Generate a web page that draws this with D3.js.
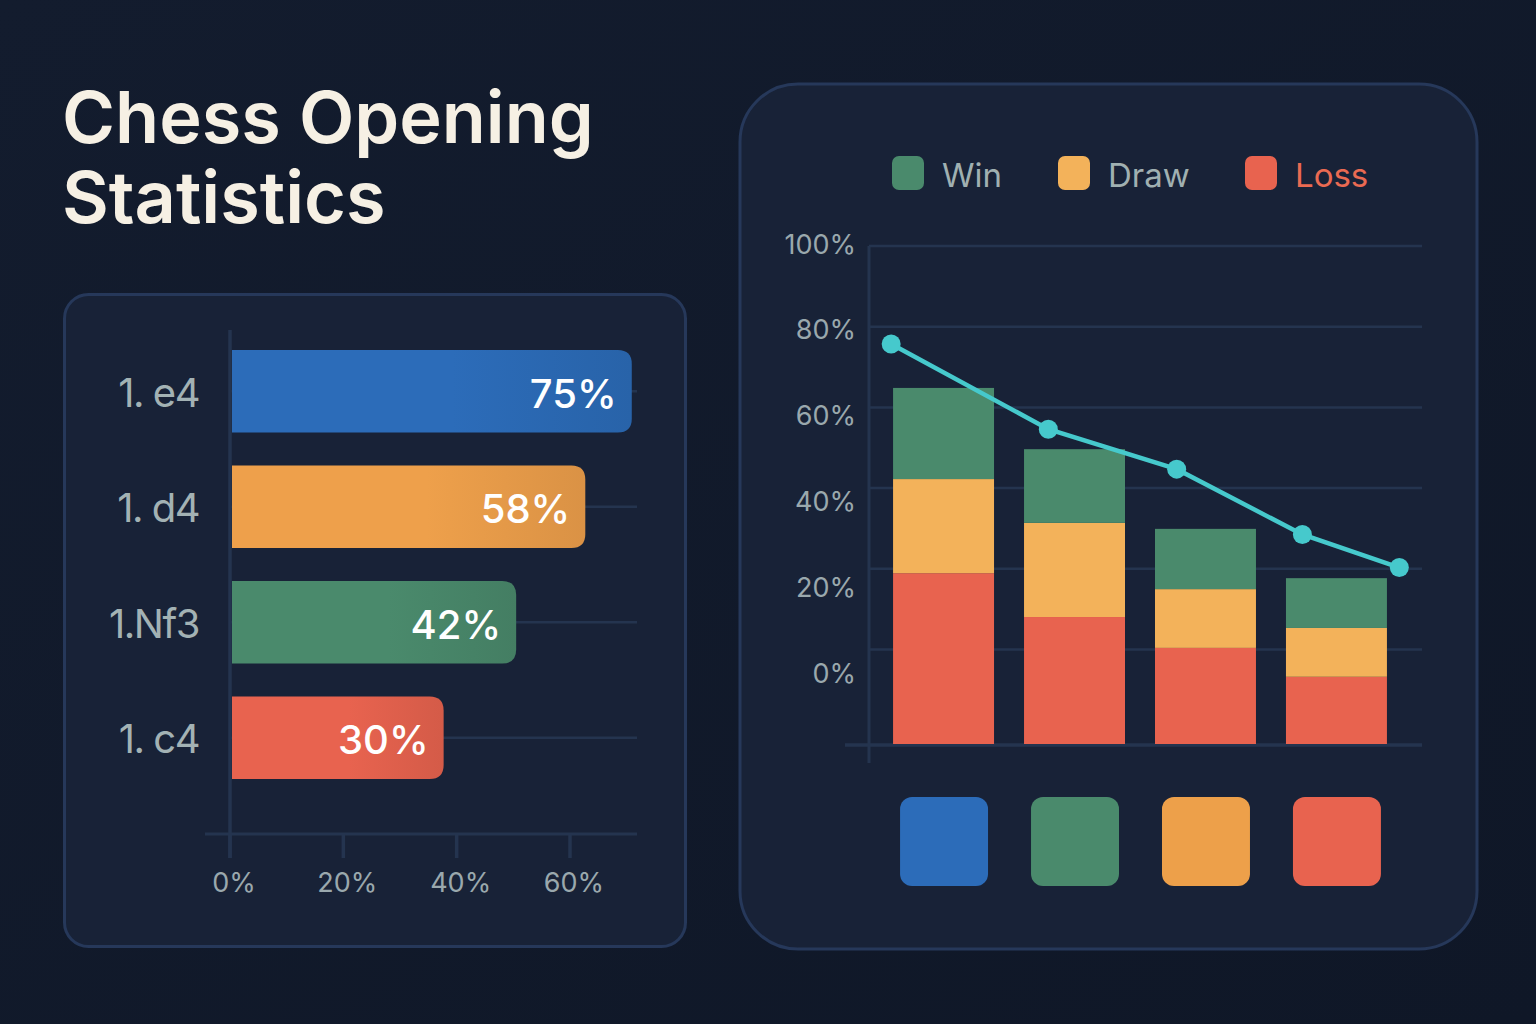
<!DOCTYPE html>
<html>
<head>
<meta charset="utf-8">
<script src="https://cdn.jsdelivr.net/npm/d3@7"></script>
<style>
  html, body { margin: 0; padding: 0; background: #111a2b; }
  svg { display: block; font-family: Inter, "Noto Sans", sans-serif; }
</style>
</head>
<body>
<script>
// left chart: openings, drawn bar length and printed label
const openings = ["1. e4", "1. d4", "1.Nf3", "1. c4"];
const barLength = [70.9, 62.7, 50.5, 37.7];
const barLabels = ["75%", "58%", "42%", "30%"];
const openingColors = ["#2c6cb9", "#eea04b", "#4a8a6c", "#e8634f"];
const xTicks = [0, 20, 40, 60];

// right chart: stacked win / draw / loss per opening
const resultKeys = ["Loss", "Draw", "Win"];
const lossValues = [34.3, 25.5, 19.3, 13.5];
const drawValues = [18.9, 18.9, 11.8, 9.8];
const winValues = [18.3, 14.8, 12.1, 10.0];
const resultColors = { Win: "#4a8a6c", Draw: "#f3b25a", Loss: "#e8634f" };
const legendItems = ["Win", "Draw", "Loss"];
const yTicks = [0, 20, 40, 60, 80, 100];
const swatchColors = ["#2c6cb9", "#4a8a6c", "#eda04a", "#e8634f"];

// trend line (x in bar-index units)
const trendX = [-0.40, 0.80, 1.78, 2.74, 3.48];
const trendY = [75.7, 54.6, 44.7, 28.5, 20.3];

const W = 1536, H = 1024;
const svg = d3.select("body").append("svg")
    .attr("width", W)
    .attr("height", H);

const defs = svg.append("defs");
const bg = defs.append("linearGradient").attr("id", "bg")
    .attr("x1", 0).attr("y1", 0).attr("x2", 1).attr("y2", 1);
bg.append("stop").attr("offset", 0).attr("stop-color", "#131c2e");
bg.append("stop").attr("offset", 1).attr("stop-color", "#0f1727");

svg.append("rect").attr("width", W).attr("height", H).attr("fill", "url(#bg)");

// title
svg.append("text")
    .attr("x", 62).attr("y", 143)
    .attr("fill", "#f6f0e4")
    .style("font-size", "72px")
    .style("font-weight", 600)
    .selectAll("tspan")
    .data(["Chess Opening", "Statistics"])
    .join("tspan")
    .attr("x", 62)
    .attr("dy", (d, i) => i ? 80 : 0)
    .text(d => d);

// panels
svg.append("rect")
    .attr("x", 64.5).attr("y", 294.5).attr("width", 621).attr("height", 652)
    .attr("rx", 24)
    .attr("fill", "#182237").attr("stroke", "#26385a").attr("stroke-width", 3);

svg.append("rect")
    .attr("x", 740).attr("y", 84).attr("width", 737).attr("height", 865)
    .attr("rx", 58)
    .attr("fill", "#182237").attr("stroke", "#26385a").attr("stroke-width", 3);

// ---------- left chart ----------
const x = d3.scaleLinear().domain([0, 60]).range([230, 570]);
const yCat = d3.scaleBand().domain(openings).range([350, 779]).paddingInner(0.287);

const gridCol = "#24344f";

const left = svg.append("g");

left.selectAll(".row-line")
    .data(openings)
    .join("line")
    .attr("x1", x(0)).attr("x2", 637)
    .attr("y1", d => yCat(d) + yCat.bandwidth() / 2)
    .attr("y2", d => yCat(d) + yCat.bandwidth() / 2)
    .attr("stroke", gridCol).attr("stroke-width", 2.5);

left.append("line")
    .attr("x1", 205).attr("x2", 637)
    .attr("y1", 834).attr("y2", 834)
    .attr("stroke", gridCol).attr("stroke-width", 3);

left.append("line")
    .attr("x1", x(0)).attr("x2", x(0))
    .attr("y1", 330).attr("y2", 858)
    .attr("stroke", gridCol).attr("stroke-width", 3.5);

left.selectAll(".xtick")
    .data(xTicks)
    .join("line")
    .attr("x1", d => x(d)).attr("x2", d => x(d))
    .attr("y1", 834).attr("y2", 858)
    .attr("stroke", gridCol).attr("stroke-width", 3.5);

left.selectAll(".xlabel")
    .data(xTicks)
    .join("text")
    .attr("x", d => x(d) + 4)
    .attr("y", 882)
    .attr("text-anchor", "middle")
    .attr("dominant-baseline", "central")
    .attr("fill", "#9aa8ad")
    .style("font-size", "27px")
    .text(d => d + "%");

// gradients for the horizontal bars
openingColors.forEach((c, i) => {
    const g = defs.append("linearGradient").attr("id", "hb" + i)
        .attr("x1", 0).attr("y1", 0).attr("x2", 1).attr("y2", 0);
    g.append("stop").attr("offset", 0.55).attr("stop-color", c);
    g.append("stop").attr("offset", 1).attr("stop-color", d3.color(c).darker(0.25));
});

function rightRounded(x0, y0, w, h, r) {
    return `M${x0},${y0}H${x0 + w - r}Q${x0 + w},${y0} ${x0 + w},${y0 + r}` +
        `V${y0 + h - r}Q${x0 + w},${y0 + h} ${x0 + w - r},${y0 + h}H${x0}Z`;
}

left.selectAll(".hbar")
    .data(openings)
    .join("path")
    .attr("d", (d, i) => rightRounded(x(0) + 2, yCat(d), x(barLength[i]) - x(0) - 2, yCat.bandwidth(), 14))
    .attr("fill", (d, i) => `url(#hb${i})`);

left.selectAll(".vlabel")
    .data(openings)
    .join("text")
    .attr("x", (d, i) => x(barLength[i]) - 15)
    .attr("y", d => yCat(d) + yCat.bandwidth() / 2 + 2)
    .attr("text-anchor", "end")
    .attr("dominant-baseline", "central")
    .attr("fill", "#ffffff")
    .style("font-size", "40px")
    .style("font-weight", 500)
    .text((d, i) => barLabels[i]);

left.selectAll(".catlabel")
    .data(openings)
    .join("text")
    .attr("x", 199)
    .attr("y", d => yCat(d) + yCat.bandwidth() / 2 + 1)
    .attr("text-anchor", "end")
    .attr("dominant-baseline", "central")
    .attr("fill", "#a3b2b4")
    .style("font-size", "40px")
    .style("letter-spacing", "-1.5px")
    .text(d => d);

// ---------- right chart ----------
const xBar = d3.scaleBand().domain(openings).range([878, 1402]).paddingInner(0.229).paddingOuter(0.115);
const yGrid = d3.scaleLinear().domain([0, 100]).range([649.5, 246]);
const yLabel = d3.scaleLinear().domain([0, 100]).range([673, 244]);
const yBar = d3.scaleLinear().domain([0, 100]).range([744, 246]);
const xIdx = d3.scaleLinear().domain([0, 3])
    .range([xBar(openings[0]) + xBar.bandwidth() / 2, xBar(openings[3]) + xBar.bandwidth() / 2]);

const right = svg.append("g");

right.selectAll(".ygrid")
    .data(yTicks)
    .join("line")
    .attr("x1", 869).attr("x2", 1422)
    .attr("y1", d => yGrid(d)).attr("y2", d => yGrid(d))
    .attr("stroke", gridCol).attr("stroke-width", 2.5);

right.append("line")
    .attr("x1", 845).attr("x2", 1422)
    .attr("y1", yBar(0) + 1).attr("y2", yBar(0) + 1)
    .attr("stroke", gridCol).attr("stroke-width", 3.5);

right.append("line")
    .attr("x1", 869).attr("x2", 869)
    .attr("y1", yGrid(100)).attr("y2", 763)
    .attr("stroke", gridCol).attr("stroke-width", 3);

right.selectAll(".ylabel")
    .data(yTicks)
    .join("text")
    .attr("x", 856)
    .attr("y", d => yLabel(d))
    .attr("text-anchor", "end")
    .attr("dominant-baseline", "central")
    .attr("fill", "#9aa8ad")
    .style("font-size", "27px")
    .text(d => d + "%");

const stackRows = openings.map((o, i) => ({
    opening: o, Loss: lossValues[i], Draw: drawValues[i], Win: winValues[i]
}));
const series = d3.stack().keys(resultKeys)(stackRows);

right.selectAll(".layer")
    .data(series)
    .join("g")
    .attr("fill", s => resultColors[s.key])
    .selectAll("rect")
    .data(s => s)
    .join("rect")
    .attr("x", d => xBar(d.data.opening))
    .attr("width", xBar.bandwidth())
    .attr("y", d => yBar(d[1]))
    .attr("height", d => yBar(d[0]) - yBar(d[1]));

// trend line
const trend = trendX.map((v, i) => [v, trendY[i]]);
right.append("path")
    .datum(trend)
    .attr("fill", "none")
    .attr("stroke", "#46c9cc")
    .attr("stroke-width", 4.5)
    .attr("d", d3.line().x(d => xIdx(d[0])).y(d => yGrid(d[1])));

right.selectAll(".dot")
    .data(trend)
    .join("circle")
    .attr("cx", d => xIdx(d[0]))
    .attr("cy", d => yGrid(d[1]))
    .attr("r", 9.5)
    .attr("fill", "#46c9cc");

// legend
const legendX = [892, 1058, 1245];
const legend = right.selectAll(".legend")
    .data(legendItems)
    .join("g")
    .attr("transform", (d, i) => `translate(${legendX[i]},156)`);

legend.append("rect")
    .attr("width", 32).attr("height", 34).attr("rx", 7)
    .attr("fill", d => resultColors[d]);

legend.append("text")
    .attr("x", 50).attr("y", 19)
    .attr("dominant-baseline", "central")
    .attr("fill", d => d === "Loss" ? "#ea6a52" : "#a0b0b1")
    .style("font-size", "33px")
    .text(d => d);

// colour swatches under the bars
right.selectAll(".swatch")
    .data(openings)
    .join("rect")
    .attr("x", d => xBar(d) + 7)
    .attr("y", 797)
    .attr("width", xBar.bandwidth() - 13)
    .attr("height", 89)
    .attr("rx", 12)
    .attr("fill", (d, i) => swatchColors[i]);
</script>
</body>
</html>
